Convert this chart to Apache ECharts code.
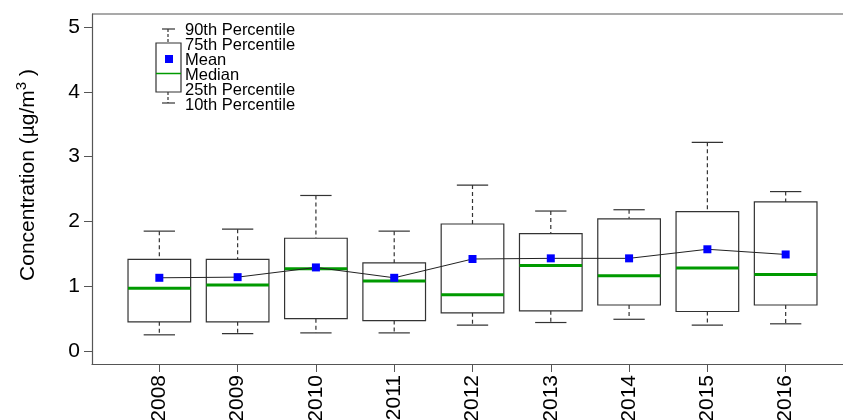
<!DOCTYPE html>
<html>
<head>
<meta charset="utf-8">
<script src="https://cdn.jsdelivr.net/npm/echarts@6/dist/echarts.min.js"></script>
<style>html,body{margin:0;padding:0;background:#fff}#c{width:843px;height:420px}</style>
</head>
<body>
<div id="c"></div>
<script>
var years = ['2008','2009','2010','2011','2012','2013','2014','2015','2016'];
var p10 = [0.25,0.27,0.28,0.28,0.40,0.44,0.49,0.40,0.42];
var p25 = [0.45,0.45,0.50,0.47,0.59,0.62,0.71,0.61,0.71];
var median = [0.97,1.02,1.27,1.08,0.87,1.32,1.16,1.28,1.18];
var p75 = [1.415,1.415,1.74,1.36,1.96,1.81,2.04,2.15,2.30];
var p90 = [1.85,1.88,2.40,1.85,2.56,2.16,2.18,3.22,2.46];
var mean = [1.13,1.14,1.29,1.13,1.42,1.43,1.43,1.57,1.49];
var yTicks = [0,1,2,3,4,5];

var FONT = 'Liberation Sans, Arial, sans-serif';
var boxData = years.map(function(y,i){ return [i+1, p10[i], p25[i], median[i], p75[i], p90[i]]; });
var meanData = years.map(function(y,i){ return [i+1, mean[i]]; });
var xTicks = years.map(function(y,i){ return i+1; });

var chart = echarts.init(document.getElementById('c'), null, {renderer:'canvas'});
var boxStroke = '#333';
function renderBox(params, api){
  var x = api.value(0);
  var halfW = 0.4, capW = 0.2;
  var lo = api.coord([x, api.value(1)]);
  var q1 = api.coord([x, api.value(2)]);
  var md = api.coord([x, api.value(3)]);
  var q3 = api.coord([x, api.value(4)]);
  var hi = api.coord([x, api.value(5)]);
  var bl = api.coord([x-halfW, 0])[0], br = api.coord([x+halfW, 0])[0];
  var cl = api.coord([x-capW, 0])[0], cr = api.coord([x+capW, 0])[0];
  var cx = lo[0];
  var dash = {stroke: boxStroke, lineWidth: 1.2, lineDash: [4,3]};
  var solid = {stroke: boxStroke, lineWidth: 1.2};
  return {type:'group', children:[
    {type:'line', shape:{x1:cx,y1:hi[1],x2:cx,y2:q3[1]}, style:dash},
    {type:'line', shape:{x1:cx,y1:q1[1],x2:cx,y2:lo[1]}, style:dash},
    {type:'line', shape:{x1:cl,y1:hi[1],x2:cr,y2:hi[1]}, style:solid},
    {type:'line', shape:{x1:cl,y1:lo[1],x2:cr,y2:lo[1]}, style:solid},
    {type:'rect', shape:{x:bl,y:q3[1],width:br-bl,height:q1[1]-q3[1]}, style:{fill:'#fff',stroke:boxStroke,lineWidth:1.2}},
    {type:'line', shape:{x1:bl,y1:md[1],x2:br,y2:md[1]}, style:{stroke:'#009a00',lineWidth:3}}
  ]};
}

// legend glyph (not data)
var lgX = 168, lgTxt = 185;
var legendGraphics = [
  {type:'line', shape:{x1:162,y1:29,x2:175,y2:29}, style:{stroke:boxStroke,lineWidth:1.2}},
  {type:'line', shape:{x1:lgX,y1:29,x2:lgX,y2:43}, style:{stroke:boxStroke,lineWidth:1.2,lineDash:[3,2]}},
  {type:'rect', shape:{x:156,y:43,width:25,height:49}, style:{fill:'#fff',stroke:boxStroke,lineWidth:1.2}},
  {type:'rect', shape:{x:165,y:55,width:8,height:8}, style:{fill:'#0000ff'}},
  {type:'line', shape:{x1:156,y1:73.5,x2:181,y2:73.5}, style:{stroke:'#009a00',lineWidth:1.5}},
  {type:'line', shape:{x1:lgX,y1:92,x2:lgX,y2:103}, style:{stroke:boxStroke,lineWidth:1.2,lineDash:[3,2]}},
  {type:'line', shape:{x1:162,y1:103,x2:175,y2:103}, style:{stroke:boxStroke,lineWidth:1.2}}
];
var legendLabels = ['90th Percentile','75th Percentile','Mean','Median','25th Percentile','10th Percentile'];
legendLabels.forEach(function(t,i){
  legendGraphics.push({type:'text', x:lgTxt, y:30+i*15, style:{text:t, font:'16.5px '+FONT, fill:'#000', verticalAlign:'middle', align:'left'}});
});

var yTitle = {type:'text', x:28, y:175, rotation:Math.PI/2,
  style:{text:'{a|Concentration (µg/m}{s|3}{a| )}', align:'center', verticalAlign:'middle',
    rich:{a:{fontSize:21,fontFamily:FONT,fill:'#000'}, s:{fontSize:15,fontFamily:FONT,fill:'#000',verticalAlign:'top',padding:[0,0,12,0]}}}};

chart.setOption({
  animation:false,
  backgroundColor:'#fff',
  grid:{left:92, top:14, right:-10, bottom:56, show:false, containLabel:false, outerBoundsMode:'none'},
  xAxis:{
    type:'value', min:0.14, max:9.86,
    axisLine:{show:true, onZero:false, lineStyle:{color:'#555', width:1.2}},
    splitLine:{show:false},
    axisTick:{show:true, customValues:xTicks, length:8, lineStyle:{color:'#555'}},
    axisLabel:{customValues:xTicks, rotate:90, margin:11, fontSize:21, color:'#000', fontFamily:FONT,
      formatter:function(v){ return years[Math.round(v)-1]; }}
  },
  yAxis:{
    type:'value', min:-0.2, max:5.2,
    axisLine:{show:true, lineStyle:{color:'#555', width:1.2}},
    splitLine:{show:false},
    axisTick:{show:true, customValues:yTicks, length:8, lineStyle:{color:'#555'}},
    axisLabel:{customValues:yTicks, margin:12, fontSize:21, color:'#000', fontFamily:FONT}
  },
  graphic:[
    {type:'line', shape:{x1:92,y1:14,x2:843,y2:14}, style:{stroke:'#555',lineWidth:1.2}},
    yTitle
  ].concat(legendGraphics),
  series:[
    {type:'custom', renderItem:renderBox, data:boxData, encode:{x:0,y:[1,2,3,4,5]}, z:2},
    {type:'line', data:meanData, symbol:'rect', symbolSize:8, z:5,
      lineStyle:{color:'#222', width:1}, itemStyle:{color:'#0000ff'}}
  ]
});
</script>
</body>
</html>
